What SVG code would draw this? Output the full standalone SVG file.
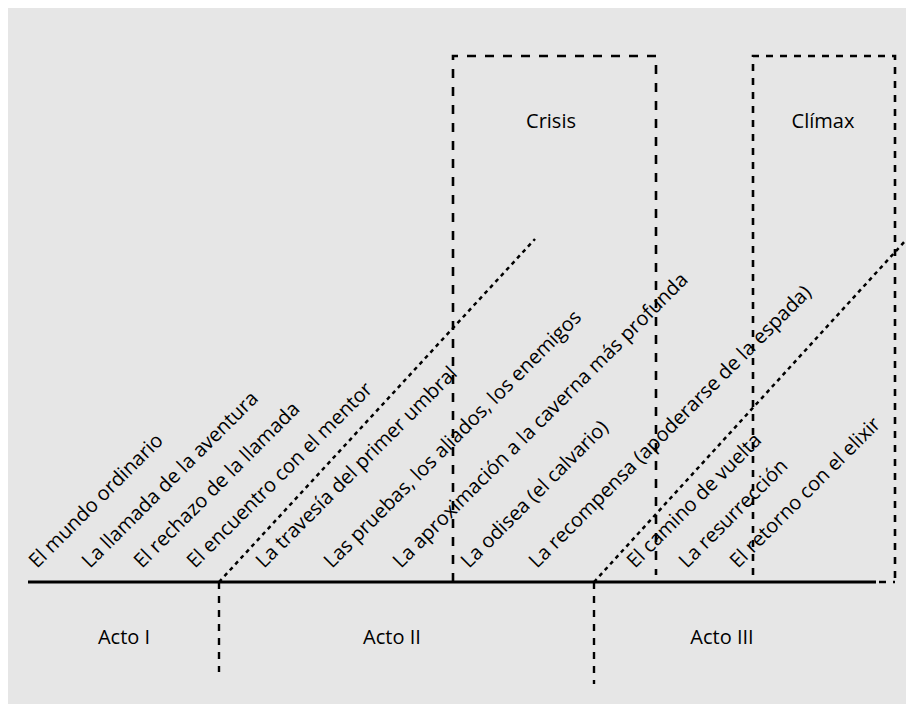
<svg xmlns="http://www.w3.org/2000/svg" width="906" height="704" viewBox="0 0 906 704">
  <style>
    text { font-family: "Open Sans", "Noto Sans", "Liberation Sans", sans-serif; font-size: 20px; fill: #000; }
    .mid { text-anchor: middle; }
    .base { stroke: #000; stroke-width: 3; fill: none; }
    .crisis { stroke: #000; stroke-width: 2.6; fill: none; stroke-dasharray: 9 9; }
    .climax { stroke: #000; stroke-width: 2.6; fill: none; stroke-dasharray: 7 7; }
    .act { stroke: #000; stroke-width: 2.4; fill: none; stroke-dasharray: 7 7; }
    .dot { stroke: #000; stroke-width: 2.5; fill: none; stroke-dasharray: 4 4; }
  </style>
  <rect x="8" y="8" width="898" height="696" fill="#e6e6e6"/>

  <g id="connectors">
    <line class="base" x1="28" y1="582" x2="876" y2="582"/>
    <line class="climax" x1="879" y1="582" x2="895" y2="582"/>
    <line class="act" x1="219" y1="582" x2="219" y2="672"/>
    <line class="act" x1="594" y1="582" x2="594" y2="684"/>
    <line class="dot" x1="219" y1="582" x2="535" y2="239"/>
    <line class="dot" x1="594" y1="582" x2="906" y2="240"/>
  </g>

  <g id="crisis">
    <path class="crisis" d="M453,582 V56 H656 V575"/>
    <text class="mid" x="551" y="128">Crisis</text>
  </g>
  <g id="climax">
    <path class="climax" d="M753,575 V56 H895 V582"/>
    <text class="mid" x="823" y="128">Clímax</text>
  </g>

  <g id="acto1"><text class="mid" x="124" y="644">Acto I</text></g>
  <g id="acto2"><text class="mid" x="392" y="644">Acto II</text></g>
  <g id="acto3"><text class="mid" x="722" y="644">Acto III</text></g>

  <g id="stage1"><text transform="translate(37,569) rotate(-45)">El mundo ordinario</text></g>
  <g id="stage2"><text transform="translate(90,569) rotate(-45)">La llamada de la aventura</text></g>
  <g id="stage3"><text transform="translate(142,569) rotate(-45)">El rechazo de la llamada</text></g>
  <g id="stage4"><text transform="translate(195,569) rotate(-45)">El encuentro con el mentor</text></g>
  <g id="stage5"><text transform="translate(264,569) rotate(-45)">La travesía del primer umbral</text></g>
  <g id="stage6"><text transform="translate(332,569) rotate(-45)">Las pruebas, los aliados, los enemigos</text></g>
  <g id="stage7"><text transform="translate(401,569) rotate(-45)">La aproximación a la caverna más profunda</text></g>
  <g id="stage8"><text transform="translate(469,569) rotate(-45)">La odisea (el calvario)</text></g>
  <g id="stage9"><text transform="translate(537,569) rotate(-45)">La recompensa (apoderarse de la espada)</text></g>
  <g id="stage10"><text transform="translate(635,569) rotate(-45)">El camino de vuelta</text></g>
  <g id="stage11"><text transform="translate(687,569) rotate(-45)">La resurrección</text></g>
  <g id="stage12"><text transform="translate(738,569) rotate(-45)">El retorno con el elixir</text></g>
</svg>
